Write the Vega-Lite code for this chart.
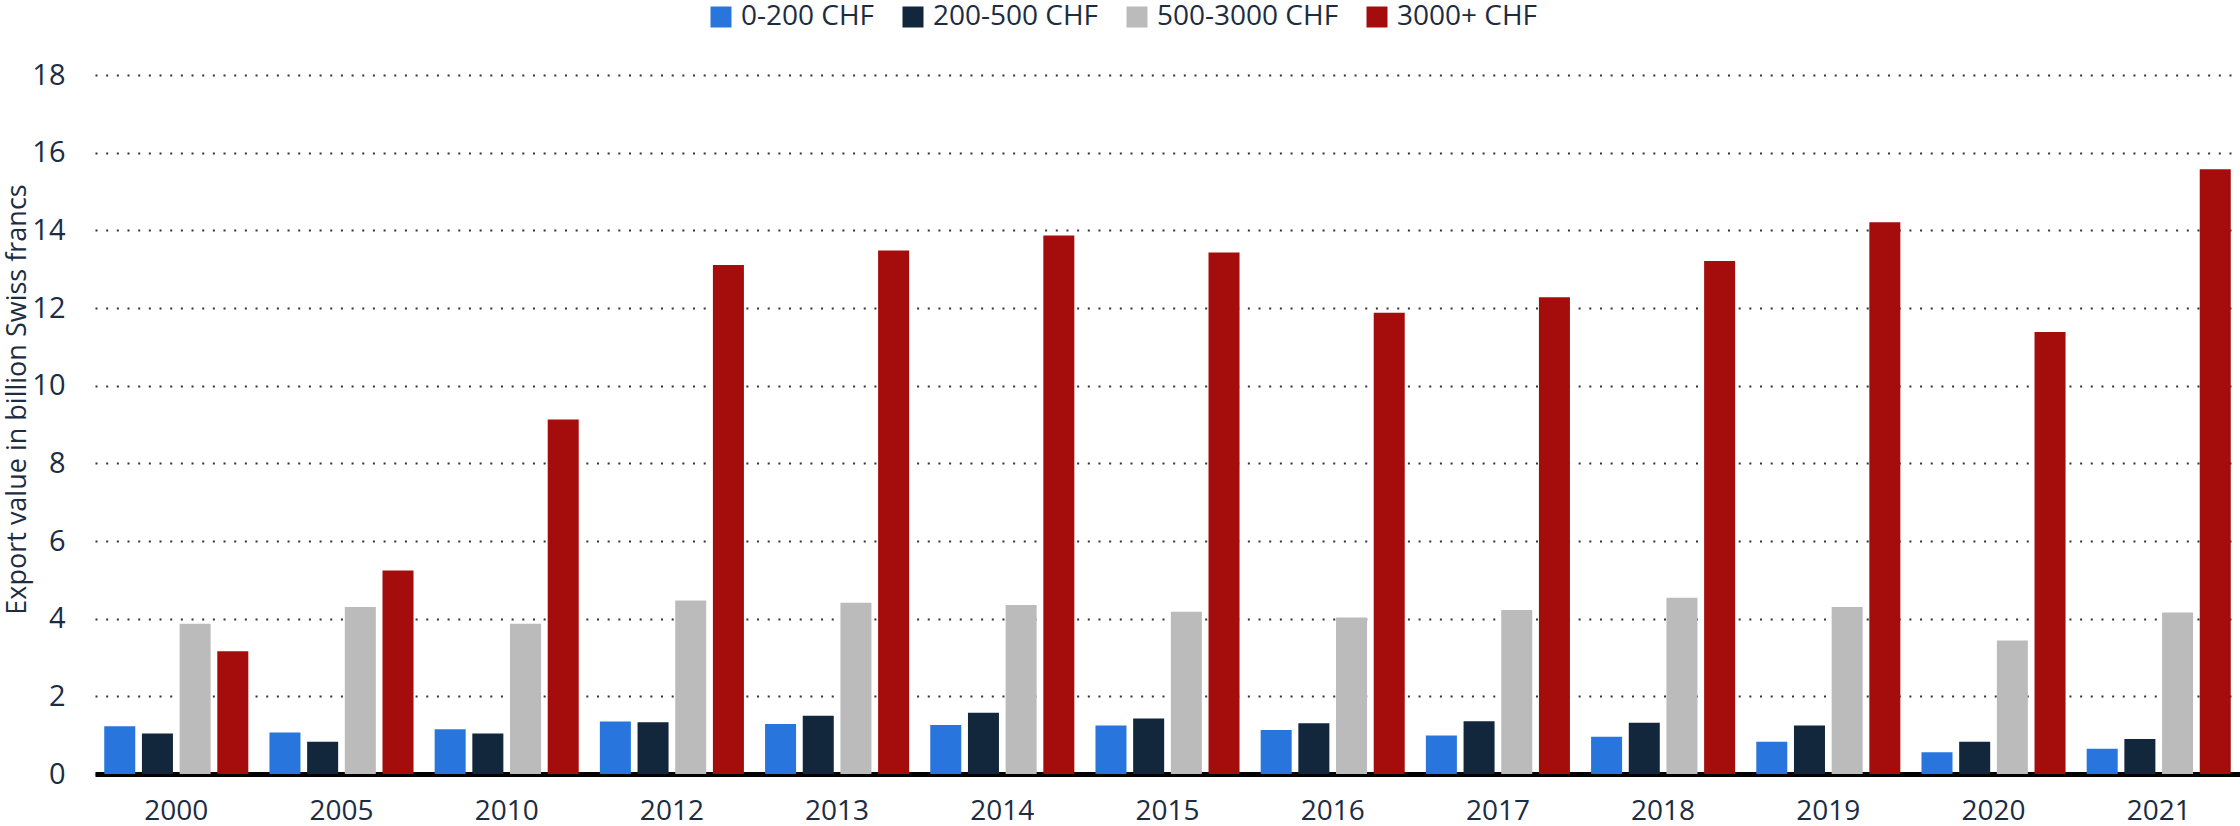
{
  "$schema": "https://vega.github.io/schema/vega-lite/v6.json",
  "autosize": {"type": "none"},
  "width": 2145,
  "height": 699,
  "padding": {"left": 95, "top": 75, "right": 0, "bottom": 52},
  "background": "white",
  "config": {
    "view": {"stroke": null},
    "font": "Open Sans",
    "axis": {"labelFont": "Open Sans", "titleFont": "Open Sans", "labelColor": "#1c2d42", "titleColor": "#1c2d42"},
    "legend": {"labelFont": "Open Sans"}
  },
  "data": {
    "values": [
      {"year": "2000", "range": "0-200 CHF", "value": 1.23},
      {"year": "2000", "range": "200-500 CHF", "value": 1.04},
      {"year": "2000", "range": "500-3000 CHF", "value": 3.87},
      {"year": "2000", "range": "3000+ CHF", "value": 3.16},
      {"year": "2005", "range": "0-200 CHF", "value": 1.07},
      {"year": "2005", "range": "200-500 CHF", "value": 0.83},
      {"year": "2005", "range": "500-3000 CHF", "value": 4.30},
      {"year": "2005", "range": "3000+ CHF", "value": 5.24},
      {"year": "2010", "range": "0-200 CHF", "value": 1.15},
      {"year": "2010", "range": "200-500 CHF", "value": 1.04},
      {"year": "2010", "range": "500-3000 CHF", "value": 3.87},
      {"year": "2010", "range": "3000+ CHF", "value": 9.13},
      {"year": "2012", "range": "0-200 CHF", "value": 1.35},
      {"year": "2012", "range": "200-500 CHF", "value": 1.33},
      {"year": "2012", "range": "500-3000 CHF", "value": 4.47},
      {"year": "2012", "range": "3000+ CHF", "value": 13.11},
      {"year": "2013", "range": "0-200 CHF", "value": 1.29},
      {"year": "2013", "range": "200-500 CHF", "value": 1.50},
      {"year": "2013", "range": "500-3000 CHF", "value": 4.41},
      {"year": "2013", "range": "3000+ CHF", "value": 13.48},
      {"year": "2014", "range": "0-200 CHF", "value": 1.26},
      {"year": "2014", "range": "200-500 CHF", "value": 1.58},
      {"year": "2014", "range": "500-3000 CHF", "value": 4.35},
      {"year": "2014", "range": "3000+ CHF", "value": 13.87},
      {"year": "2015", "range": "0-200 CHF", "value": 1.25},
      {"year": "2015", "range": "200-500 CHF", "value": 1.43},
      {"year": "2015", "range": "500-3000 CHF", "value": 4.18},
      {"year": "2015", "range": "3000+ CHF", "value": 13.43},
      {"year": "2016", "range": "0-200 CHF", "value": 1.13},
      {"year": "2016", "range": "200-500 CHF", "value": 1.31},
      {"year": "2016", "range": "500-3000 CHF", "value": 4.03},
      {"year": "2016", "range": "3000+ CHF", "value": 11.88},
      {"year": "2017", "range": "0-200 CHF", "value": 0.99},
      {"year": "2017", "range": "200-500 CHF", "value": 1.36},
      {"year": "2017", "range": "500-3000 CHF", "value": 4.22},
      {"year": "2017", "range": "3000+ CHF", "value": 12.28},
      {"year": "2018", "range": "0-200 CHF", "value": 0.96},
      {"year": "2018", "range": "200-500 CHF", "value": 1.32},
      {"year": "2018", "range": "500-3000 CHF", "value": 4.54},
      {"year": "2018", "range": "3000+ CHF", "value": 13.21},
      {"year": "2019", "range": "0-200 CHF", "value": 0.83},
      {"year": "2019", "range": "200-500 CHF", "value": 1.25},
      {"year": "2019", "range": "500-3000 CHF", "value": 4.30},
      {"year": "2019", "range": "3000+ CHF", "value": 14.21},
      {"year": "2020", "range": "0-200 CHF", "value": 0.56},
      {"year": "2020", "range": "200-500 CHF", "value": 0.83},
      {"year": "2020", "range": "500-3000 CHF", "value": 3.44},
      {"year": "2020", "range": "3000+ CHF", "value": 11.38},
      {"year": "2021", "range": "0-200 CHF", "value": 0.65},
      {"year": "2021", "range": "200-500 CHF", "value": 0.90},
      {"year": "2021", "range": "500-3000 CHF", "value": 4.16},
      {"year": "2021", "range": "3000+ CHF", "value": 15.57}
    ]
  },
  "mark": {"type": "bar"},
  "encoding": {
    "x": {
      "field": "year", "type": "nominal", "sort": null,
      "scale": {"paddingInner": 0.128, "paddingOuter": 0.056},
      "axis": {
        "title": null, "labelAngle": 0, "labelFontSize": 28, "labelPadding": 23,
        "ticks": false, "tickSize": 0,
        "domain": true, "domainColor": "#000000", "domainWidth": 5,
        "grid": false
      }
    },
    "xOffset": {
      "field": "range", "type": "nominal",
      "sort": ["0-200 CHF", "200-500 CHF", "500-3000 CHF", "3000+ CHF"],
      "scale": {"paddingInner": 0.177, "paddingOuter": 0}
    },
    "y": {
      "field": "value", "type": "quantitative",
      "scale": {"domain": [0, 18], "nice": false, "zero": true},
      "axis": {
        "title": "Export value in billion Swiss francs",
        "titleFontSize": 27, "titleFontWeight": "normal",
        "titleX": -78, "titleY": 324, "titleAngle": -90, "titleBaseline": "middle", "titleAlign": "center",
        "values": [0, 2, 4, 6, 8, 10, 12, 14, 16, 18],
        "labelFontSize": 29, "labelPadding": 30,
        "ticks": false, "tickSize": 0, "domain": false,
        "grid": true, "gridColor": "#333333", "gridWidth": 2, "gridDash": [2, 8.67]
      }
    },
    "color": {
      "field": "range", "type": "nominal",
      "sort": ["0-200 CHF", "200-500 CHF", "500-3000 CHF", "3000+ CHF"],
      "scale": {
        "domain": ["0-200 CHF", "200-500 CHF", "500-3000 CHF", "3000+ CHF"],
        "range": ["#2876dd", "#12263c", "#bbbbbb", "#a50c0c"]
      },
      "legend": {
        "title": null, "orient": "none", "direction": "horizontal",
        "legendX": 612, "legendY": -72,
        "symbolType": "square", "symbolSize": 441, "symbolStrokeWidth": 0,
        "labelFontSize": 28, "labelColor": "#1c2d42", "labelOffset": 6, "labelLimit": 500,
        "columnPadding": 24, "padding": 0
      }
    }
  }
}
